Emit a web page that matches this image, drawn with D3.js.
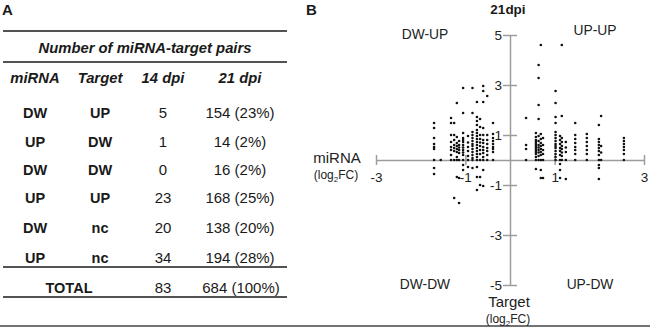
<!DOCTYPE html>
<html><head><meta charset="utf-8">
<script src="https://cdn.jsdelivr.net/npm/d3@7/dist/d3.min.js"></script>
<style>
html,body{margin:0;padding:0;background:#fff;}
svg{display:block;font-family:"Liberation Sans",Arial,sans-serif;}
</style></head>
<body>
<svg id="c" width="650" height="327"></svg>
<script>
// ---- Table data (panel A) ----
const tableTitle = "Number of miRNA-target pairs";
const colHeaders = ["miRNA", "Target", "14 dpi", "21 dpi"];
const mirnaDir = ["DW", "UP", "DW", "UP", "DW", "UP"];
const targetDir = ["UP", "DW", "DW", "UP", "nc", "nc"];
const pairs14 = [5, 1, 0, 23, 20, 34];
const pairs21 = ["154 (23%)", "14 (2%)", "16 (2%)", "168 (25%)", "138 (20%)", "194 (28%)"];
const totalRow = ["TOTAL", "83", "684 (100%)"];

// ---- Scatter data (panel B, 21dpi) ----
const xTicks = [-3, -1, 1, 3];
const yTicks = [-5, -3, -1, 1, 3, 5];
const quadrantLabels = ["DW-UP", "UP-UP", "DW-DW", "UP-DW"];
// miRNA log2FC for each miRNA column
const mirnaLog2FC = [-1.70, -1.55, -1.32, -1.25, -1.19, -1.14, -1.05, -0.94, -0.84, -0.74, -0.67, -0.60, -0.51, -0.38,
  0.36, 0.58, 0.64, 0.69, 0.74, 1.02, 1.12, 1.16, 1.25, 1.46, 1.72, 1.99, 2.04, 2.55];
// target log2FC values for each miRNA column
const targetLog2FC = [
  [1.48, 1.28, 0.88, 0.64, 0.52, 0.44, 0, -0.32, -0.56],
  [0],
  [1.68, 1.48, 1.0, 0.72, 0.52, 0.4, 0.2, 0],
  [1.48, 1.0, 0.8, 0.6, 0.48, 0.36, 0, -1.52],
  [2.28, 0.92, 0.68, 0.56, 0.44, 0.32, 0.12, 0, -0.68],
  [0.76, 0.6, 0.5, 0.4, 0.28, 0, -0.72, -1.72],
  [2.88, 1.88, 1.08, 0.88, 0.8, 0.72, 0.6, 0.5, 0.4, 0.3, 0.2, 0, -0.2, -0.4],
  [0.96, 0.7, 0.52, 0.36, 0.16, 0, -0.28],
  [2.88, 1.88, 1.12, 1.0, 0.88, 0.76, 0.64, 0.56, 0.44, 0.32, 0.2, 0.08, 0, -0.32],
  [2.32, 1.72, 1.56, 1.4, 1.2, 1.08, 0.96, 0.84, 0.72, 0.6, 0.48, 0.36, 0.24, 0.12, 0, -0.28, -0.68, -1.2],
  [1.64, 1.32, 1.0, 0.84, 0.7, 0.56, 0.4, 0.24, 0, -0.68, -1.0],
  [2.96, 2.76, 2.32, 1.28, 1.0, 0.8, 0.68, 0.52, 0.4, 0.28, 0.12, 0, -0.4, -1.04],
  [2.56, 1.0, 0.8, 0.64, 0.48, 0.36, 0.2, 0],
  [1.48, 1.04, 0.88, 0.76, 0.64, 0.52, 0.44, 0.32, 0],
  [1.68, 0.6, 0.44, 0],
  [1.08, 0.92, 0.8, 0.72, 0.64, 0.56, 0.48, 0.4, 0.32, 0.24, 0.12, 0, -0.36],
  [3.8, 3.28, 2.2, 1.64, 0.96, 0.76, 0.6, 0.5, 0.4, 0.3, 0.16, 0],
  [4.6, 1.04, 0.84, 0.68, 0.56, 0.44, 0.32, 0.2, 0, -0.4, -0.72],
  [0.88, 0.6, 0.4, 0.24, 0, -0.72],
  [2.76, 2.28, 1.72, 1.48, 1.12, 1.0, 0.88, 0.76, 0.64, 0.56, 0.48, 0.36, 0.24, 0.12, 0],
  [0.96, 0.8, 0.64, 0.48, 0.36, 0.2, 0, -0.16, -0.4, -0.72],
  [4.6, 1.76, 0.88, 0.72, 0.56, 0.44, 0.3, 0.16, 0],
  [0.72, 0.5, 0.32, 0, -0.76],
  [1.48, 1.0, 0.84, 0.68, 0.52, 0.4, 0.24, 0],
  [1.04, 0.88, 0.72, 0.56, 0.4, 0.24, 0],
  [1.4, 0.84, 0.72, 0.6, 0.48, 0.36, 0.2, 0, -0.2, -0.32, -0.76],
  [1.76, 0.56, 0.3, 0],
  [0.88, 0.76, 0.64, 0.52, 0.4, 0.24, 0]
];

const svg = d3.select("#c");
const ink = "#1a1a1a";

// Bottom frame line
svg.append("line").attr("x1", 0).attr("x2", 650).attr("y1", 326).attr("y2", 326)
  .attr("stroke", "#444").attr("stroke-width", 1.5);

// ---------- Panel A ----------
svg.append("text").attr("x", 2).attr("y", 15).attr("font-size", 15).attr("font-weight", "bold")
  .attr("fill", ink).text("A");

const colX = d3.scaleOrdinal().domain([0, 1, 2, 3]).range([35, 100, 163, 240]);
const hl = (y) => svg.append("line").attr("x1", 3).attr("x2", 287).attr("y1", y).attr("y2", y)
  .attr("stroke", ink).attr("stroke-width", 1.6);
hl(31); hl(62); hl(267); hl(297);

svg.append("text").attr("x", 145).attr("y", 53).attr("text-anchor", "middle")
  .attr("font-size", 14.8).attr("font-weight", "bold").attr("font-style", "italic").attr("fill", ink)
  .text(tableTitle);
svg.selectAll("text.ch").data(colHeaders).join("text").attr("class", "ch")
  .attr("x", (d, i) => colX(i)).attr("y", 83).attr("text-anchor", "middle")
  .attr("font-size", 14.8).attr("font-weight", "bold").attr("font-style", "italic").attr("fill", ink)
  .text(d => d);

const rowY = d3.scaleOrdinal().domain(d3.range(6)).range([118, 147, 175, 203, 233, 263]);
mirnaDir.forEach((m, i) => {
  const cells = [m, targetDir[i], String(pairs14[i]), pairs21[i]];
  cells.forEach((c, j) => {
    svg.append("text").attr("x", colX(j)).attr("y", rowY(i)).attr("text-anchor", "middle")
      .attr("font-size", j < 2 ? 14.5 : 15).attr("font-weight", j < 2 ? "bold" : "normal")
      .attr("fill", ink).text(c);
  });
});
svg.append("text").attr("x", 69).attr("y", 293).attr("text-anchor", "middle")
  .attr("font-size", 14.5).attr("font-weight", "bold").attr("fill", ink).text(totalRow[0]);
svg.append("text").attr("x", colX(2)).attr("y", 293).attr("text-anchor", "middle")
  .attr("font-size", 15).attr("fill", ink).text(totalRow[1]);
svg.append("text").attr("x", 241).attr("y", 293).attr("text-anchor", "middle")
  .attr("font-size", 15).attr("fill", ink).text(totalRow[2]);

// ---------- Panel B ----------
svg.append("text").attr("x", 306).attr("y", 15).attr("font-size", 15).attr("font-weight", "bold")
  .attr("fill", ink).text("B");
svg.append("text").attr("x", 508).attr("y", 14).attr("text-anchor", "middle")
  .attr("font-size", 13.5).attr("font-weight", "bold").attr("fill", ink).text("21dpi");

const x = d3.scaleLinear().domain([-3, 3]).range([376, 644]);
const y = d3.scaleLinear().domain([-5, 5]).range([285, 35]);
const axisColor = "#9c9c9c";

// x axis (miRNA)
const gx = svg.append("g").attr("transform", `translate(0,${y(0)})`)
  .call(d3.axisBottom(x).tickValues(xTicks).tickSize(5).tickSizeOuter(0).tickPadding(7).tickFormat(d3.format("d")));
gx.selectAll("line").attr("y1", -5).attr("y2", 5);
// y axis (Target)
const gy = svg.append("g").attr("transform", `translate(${x(0)},0)`)
  .call(d3.axisLeft(y).tickValues(yTicks).tickSize(7).tickSizeOuter(0).tickPadding(1).tickFormat(d3.format("d")));
gy.selectAll("line").attr("x1", 7).attr("x2", -7);
[gx, gy].forEach(g => {
  g.select(".domain").attr("stroke", axisColor).attr("stroke-width", 1.5);
  g.selectAll(".tick line").attr("stroke", axisColor).attr("stroke-width", 1.5);
  g.selectAll("text").attr("font-size", 13.5).attr("fill", "#222")
    .attr("font-family", "'Liberation Sans',Arial,sans-serif");
});
gy.selectAll("text").text(d => d < 0 ? "-" + Math.abs(d) : d);
gx.selectAll("text").text(d => d < 0 ? "-" + Math.abs(d) : d);

// points
const pts = [];
mirnaLog2FC.forEach((mx, i) => targetLog2FC[i].forEach(ty => pts.push([mx, ty])));
svg.append("g").selectAll("circle").data(pts).join("circle")
  .attr("cx", d => x(d[0])).attr("cy", d => y(d[1])).attr("r", 1.3).attr("fill", "#111");

// quadrant labels
const qx = [425, 595, 425, 590], qy = [39, 35, 289, 289];
quadrantLabels.forEach((t, i) => svg.append("text").attr("x", qx[i]).attr("y", qy[i])
  .attr("text-anchor", "middle").attr("font-size", 13.8).attr("fill", "#222").text(t));

// axis titles
function axisTitle(cx, by, main) {
  svg.append("text").attr("x", cx).attr("y", by).attr("text-anchor", "middle")
    .attr("font-size", 15).attr("fill", "#222").text(main);
  const t = svg.append("text").attr("x", cx - 1).attr("y", by + 16).attr("text-anchor", "middle")
    .attr("font-size", 12).attr("fill", "#222");
  t.append("tspan").text("(log");
  t.append("tspan").attr("font-size", 8).attr("dy", 3).text("2");
  t.append("tspan").attr("dy", -3).text("FC)");
}
axisTitle(337, 163, "miRNA");
axisTitle(509, 307, "Target");
</script>
</body></html>
